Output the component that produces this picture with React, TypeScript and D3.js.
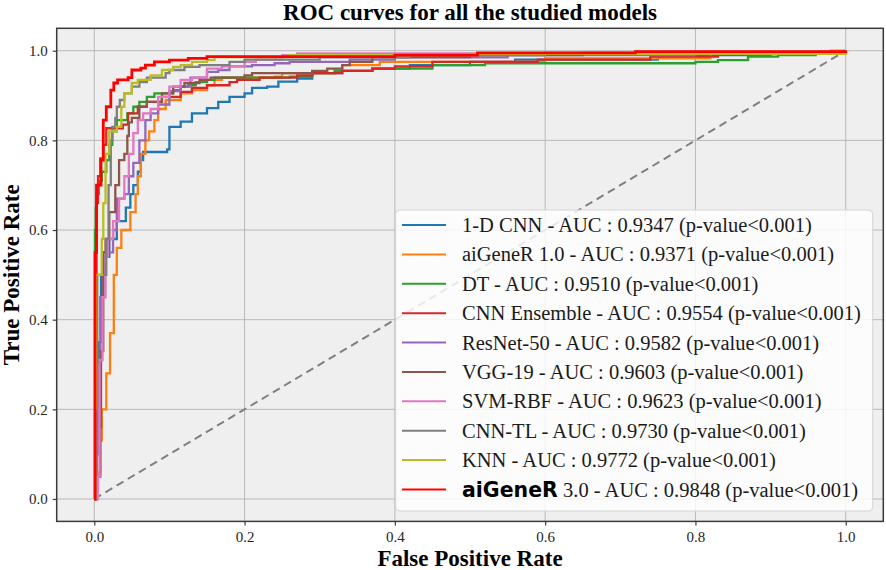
import React, { useEffect, useRef } from 'react';
import * as d3 from 'd3';

type Pt = [number, number];

// legend order = draw order
const modelNames = [
  '1-D CNN', 'aiGeneR 1.0', 'DT', 'CNN Ensemble', 'ResNet-50',
  'VGG-19', 'SVM-RBF', 'CNN-TL', 'KNN', 'aiGeneR 3.0',
];
const aucValues = [
  '0.9347', '0.9371', '0.9510', '0.9554', '0.9582',
  '0.9603', '0.9623', '0.9730', '0.9772', '0.9848',
];
const modelColors = [
  '#1f77b4', '#ff7f0e', '#2ca02c', '#d62728', '#9467bd',
  '#8c564b', '#e377c2', '#7f7f7f', '#bcbd22', '#ff0000',
];
const xTicks = [0, 0.2, 0.4, 0.6, 0.8, 1.0];
const yTicks = [0, 0.2, 0.4, 0.6, 0.8, 1.0];

// [fpr, tpr] corners
const cnn1dRoc: Pt[] = [
  [0, 0], [0.003, 0.1], [0.006, 0.35], [0.009, 0.5], [0.013, 0.54], [0.02, 0.58],
  [0.03, 0.62], [0.042, 0.65], [0.048, 0.68], [0.052, 0.7], [0.058, 0.73], [0.062, 0.756],
  [0.065, 0.774], [0.097, 0.78], [0.1, 0.83], [0.115, 0.842], [0.13, 0.86], [0.15, 0.872],
  [0.165, 0.886], [0.18, 0.897], [0.2, 0.905], [0.21, 0.917], [0.23, 0.92], [0.245, 0.931],
  [0.27, 0.938], [0.29, 0.95], [0.33, 0.955], [0.37, 0.96], [0.42, 0.968], [0.5, 0.975],
  [0.56, 0.98], [0.75, 0.99], [0.9, 0.995], [1, 1],
];
const aiGeneR1Roc: Pt[] = [
  [0, 0], [0.003, 0.03], [0.005, 0.06], [0.008, 0.13], [0.01, 0.2], [0.016, 0.28],
  [0.021, 0.37], [0.026, 0.5], [0.03, 0.56], [0.036, 0.6], [0.048, 0.64], [0.055, 0.68],
  [0.058, 0.72], [0.062, 0.77], [0.068, 0.8], [0.073, 0.82], [0.08, 0.845], [0.085, 0.87],
  [0.095, 0.89], [0.115, 0.905], [0.13, 0.912], [0.15, 0.923], [0.16, 0.935], [0.17, 0.94],
  [0.24, 0.942], [0.25, 0.95], [0.32, 0.955], [0.33, 0.968], [0.38, 0.975], [0.6, 0.983],
  [0.82, 0.995], [0.98, 1], [1, 1],
];
const dtRoc: Pt[] = [
  [0, 0], [0.001, 0.6], [0.002, 0.65], [0.003, 0.68], [0.006, 0.71], [0.01, 0.73],
  [0.016, 0.756], [0.02, 0.79], [0.024, 0.82], [0.03, 0.845], [0.044, 0.86], [0.052, 0.875],
  [0.06, 0.886], [0.07, 0.897], [0.08, 0.905], [0.105, 0.912], [0.115, 0.92], [0.125, 0.923],
  [0.135, 0.93], [0.15, 0.935], [0.16, 0.94], [0.26, 0.942], [0.29, 0.95], [0.32, 0.955],
  [0.37, 0.96], [0.45, 0.968], [0.52, 0.972], [0.8, 0.975], [0.83, 0.979], [0.87, 0.987],
  [0.91, 0.99], [0.96, 0.995], [1, 1],
];
const cnnEnsembleRoc: Pt[] = [
  [0, 0], [0.002, 0.45], [0.003, 0.66], [0.005, 0.72], [0.008, 0.76], [0.012, 0.79],
  [0.016, 0.827], [0.038, 0.835], [0.045, 0.86], [0.058, 0.875], [0.07, 0.886], [0.09, 0.897],
  [0.115, 0.908], [0.13, 0.917], [0.15, 0.923], [0.18, 0.93], [0.19, 0.935], [0.22, 0.94],
  [0.27, 0.945], [0.29, 0.95], [0.33, 0.955], [0.37, 0.96], [0.4, 0.965], [0.45, 0.975],
  [0.59, 0.98], [0.74, 0.987], [0.83, 0.994], [1, 1],
];
const resnet50Roc: Pt[] = [
  [0, 0], [0.003, 0.1], [0.005, 0.3], [0.008, 0.45], [0.012, 0.55], [0.025, 0.6],
  [0.03, 0.67], [0.04, 0.68], [0.046, 0.72], [0.052, 0.75], [0.06, 0.8], [0.068, 0.845],
  [0.075, 0.86], [0.085, 0.88], [0.1, 0.91], [0.115, 0.92], [0.128, 0.94], [0.15, 0.953],
  [0.165, 0.957], [0.18, 0.965], [0.21, 0.968], [0.24, 0.972], [0.26, 0.975], [0.34, 0.98],
  [0.4, 0.985], [0.55, 0.99], [0.8, 0.995], [1, 1],
];
const vgg19Roc: Pt[] = [
  [0, 0], [0.004, 0.05], [0.008, 0.16], [0.009, 0.33], [0.012, 0.55], [0.015, 0.58],
  [0.02, 0.64], [0.028, 0.7], [0.033, 0.756], [0.04, 0.77], [0.044, 0.81], [0.046, 0.84],
  [0.05, 0.85], [0.06, 0.875], [0.07, 0.886], [0.09, 0.905], [0.105, 0.92], [0.12, 0.928],
  [0.14, 0.935], [0.155, 0.94], [0.2, 0.945], [0.21, 0.95], [0.29, 0.955], [0.31, 0.96],
  [0.33, 0.968], [0.34, 0.975], [0.37, 0.986], [0.5, 0.99], [0.65, 0.995], [1, 1],
];
const svmRbfRoc: Pt[] = [
  [0, 0], [0.005, 0.05], [0.007, 0.31], [0.011, 0.45], [0.015, 0.54], [0.018, 0.58],
  [0.025, 0.62], [0.033, 0.67], [0.04, 0.72], [0.046, 0.77], [0.052, 0.816], [0.058, 0.845],
  [0.065, 0.86], [0.075, 0.87], [0.085, 0.897], [0.1, 0.92], [0.115, 0.935], [0.13, 0.94],
  [0.15, 0.96], [0.17, 0.965], [0.2, 0.975], [0.215, 0.98], [0.25, 0.99], [0.27, 0.994],
  [1, 1],
];
const cnnTlRoc: Pt[] = [
  [0, 0], [0.002, 0.3], [0.004, 0.5], [0.016, 0.58], [0.019, 0.7], [0.022, 0.8],
  [0.024, 0.83], [0.028, 0.85], [0.03, 0.875], [0.034, 0.89], [0.04, 0.905], [0.05, 0.92],
  [0.06, 0.93], [0.07, 0.94], [0.095, 0.95], [0.1, 0.957], [0.12, 0.964], [0.14, 0.968],
  [0.18, 0.975], [0.2, 0.98], [0.3, 0.985], [0.42, 0.99], [0.6, 0.995], [1, 1],
];
const knnRoc: Pt[] = [
  [0, 0], [0.001, 0.2], [0.002, 0.5], [0.01, 0.58], [0.012, 0.66], [0.015, 0.77],
  [0.02, 0.82], [0.03, 0.83], [0.036, 0.875], [0.04, 0.905], [0.05, 0.928], [0.058, 0.935],
  [0.075, 0.945], [0.09, 0.957], [0.105, 0.964], [0.115, 0.968], [0.13, 0.975], [0.15, 0.979],
  [0.16, 0.986], [0.26, 0.99], [0.5, 0.993], [1, 1],
];
const aiGeneR3Roc: Pt[] = [
  [0, 0], [0.001, 0.55], [0.003, 0.7], [0.009, 0.756], [0.012, 0.845], [0.016, 0.875],
  [0.022, 0.912], [0.026, 0.928], [0.031, 0.935], [0.045, 0.94], [0.05, 0.957], [0.062, 0.961],
  [0.068, 0.968], [0.08, 0.975], [0.1, 0.979], [0.125, 0.983], [0.15, 0.987], [0.4, 0.99],
  [0.51, 0.995], [0.72, 0.998], [1, 1],
];

const rocCurves = [
  cnn1dRoc, aiGeneR1Roc, dtRoc, cnnEnsembleRoc, resnet50Roc,
  vgg19Roc, svmRbfRoc, cnnTlRoc, knnRoc, aiGeneR3Roc,
];

const SERIF = '"Liberation Serif", "Times New Roman", serif';

const RocChart: React.FC = () => {
  const svgRef = useRef<SVGSVGElement>(null);

  useEffect(() => {
    if (!svgRef.current) return;
    const svg = d3.select(svgRef.current);
    svg.selectAll('*').remove();

    const left = 56.7, right = 883.3, top = 28.3, bottom = 521.4;
    const x = d3.scaleLinear().domain([-0.05, 1.05]).range([left, right]);
    const y = d3.scaleLinear().domain([-0.05, 1.05]).range([bottom, top]);

    // axes background
    svg.append('rect')
      .attr('x', left).attr('y', top)
      .attr('width', right - left).attr('height', bottom - top)
      .attr('fill', '#efefef');

    // grid
    const grid = svg.append('g').attr('stroke', '#b8b8b8').attr('stroke-width', 1);
    grid.selectAll('line.gx').data(xTicks).enter().append('line')
      .attr('x1', d => x(d)).attr('x2', d => x(d))
      .attr('y1', top).attr('y2', bottom);
    grid.selectAll('line.gy').data(yTicks).enter().append('line')
      .attr('y1', d => y(d)).attr('y2', d => y(d))
      .attr('x1', left).attr('x2', right);

    // chance line
    svg.append('line')
      .attr('x1', x(0)).attr('y1', y(0))
      .attr('x2', x(1)).attr('y2', y(1))
      .attr('stroke', '#808080')
      .attr('stroke-width', 2)
      .attr('stroke-dasharray', '8,5');

    // ROC curves
    const line = d3.line<Pt>()
      .x(d => x(d[0]))
      .y(d => y(d[1]))
      .curve(d3.curveStepAfter);

    rocCurves.forEach((pts, i) => {
      svg.append('path')
        .datum(pts)
        .attr('d', line)
        .attr('fill', 'none')
        .attr('stroke', modelColors[i])
        .attr('stroke-width', i === 9 ? 2.8 : 2.3)
        .attr('stroke-linejoin', 'miter');
    });

    // frame
    svg.append('rect')
      .attr('x', left).attr('y', top)
      .attr('width', right - left).attr('height', bottom - top)
      .attr('fill', 'none')
      .attr('stroke', '#3a3a3a')
      .attr('stroke-width', 1.5);

    // axes
    const fmt = d3.format('.1f');
    const xAxis = svg.append('g')
      .attr('transform', `translate(0,${bottom})`)
      .call(d3.axisBottom(x).tickValues(xTicks).tickFormat(d => fmt(d as number)).tickSize(4).tickPadding(6).tickSizeOuter(0));
    const yAxis = svg.append('g')
      .attr('transform', `translate(${left},0)`)
      .call(d3.axisLeft(y).tickValues(yTicks).tickFormat(d => fmt(d as number)).tickSize(4).tickPadding(5).tickSizeOuter(0));
    [xAxis, yAxis].forEach(a => {
      a.select('.domain').remove();
      a.selectAll('line').attr('stroke', '#3a3a3a').attr('stroke-width', 1.2);
      a.selectAll('text')
        .attr('fill', '#262626')
        .style('font-family', SERIF)
        .style('font-size', '15px');
    });

    // titles
    svg.append('text')
      .attr('x', (left + right) / 2).attr('y', 20)
      .attr('text-anchor', 'middle')
      .style('font-family', SERIF).style('font-size', '23px').style('font-weight', 'bold')
      .text('ROC curves for all the studied models');
    svg.append('text')
      .attr('x', (left + right) / 2).attr('y', 566)
      .attr('text-anchor', 'middle')
      .style('font-family', SERIF).style('font-size', '23px').style('font-weight', 'bold')
      .text('False Positive Rate');
    svg.append('text')
      .attr('transform', `translate(19,${(top + bottom) / 2}) rotate(-90)`)
      .attr('text-anchor', 'middle')
      .style('font-family', SERIF).style('font-size', '23px').style('font-weight', 'bold')
      .text('True Positive Rate');

    // legend
    const lg = svg.append('g');
    lg.append('rect')
      .attr('x', 395.7).attr('y', 210)
      .attr('width', 477).attr('height', 301)
      .attr('rx', 4)
      .attr('fill', 'white').attr('fill-opacity', 0.82)
      .attr('stroke', '#d4d4d4').attr('stroke-width', 1);

    const row = d3.scaleLinear().domain([0, 9]).range([225, 489.5]);
    modelNames.forEach((name, i) => {
      const cy = row(i);
      lg.append('line')
        .attr('x1', 402).attr('x2', 446)
        .attr('y1', cy).attr('y2', cy)
        .attr('stroke', modelColors[i]).attr('stroke-width', 2);
      const t = lg.append('text')
        .attr('x', 462).attr('y', cy + 7)
        .attr('fill', '#1a1a1a')
        .style('font-family', SERIF).style('font-size', '20.5px');
      const rest = ` - AUC : ${aucValues[i]} (p-value<0.001)`;
      if (i === 9) {
        const [bold, ...tail] = name.split(' ');
        t.append('tspan')
          .style('font-family', '"DejaVu Sans", sans-serif')
          .style('font-weight', 'bold')
          .attr('fill', '#000')
          .text(bold);
        t.append('tspan').text(` ${tail.join(' ')}${rest}`);
      } else {
        t.text(name + rest);
      }
    });
  }, []);

  return (
    <svg
      ref={svgRef}
      width={886}
      height={570}
      style={{ position: 'absolute', left: 0, top: 0, background: 'white' }}
    />
  );
};

export default function App() {
  return <RocChart />;
}
